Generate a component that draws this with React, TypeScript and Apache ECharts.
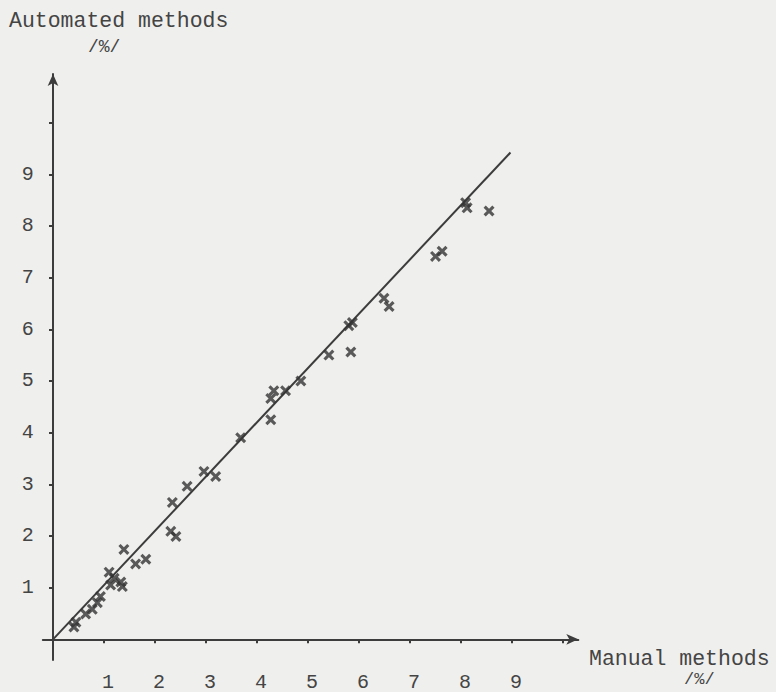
import React, { useEffect, useRef } from "react";
import * as echarts from "echarts";

const manualValues = [
  0.41, 0.45, 0.64, 0.77, 0.87, 0.93, 1.10, 1.13, 1.20, 1.33, 1.36, 1.39, 1.62, 1.82,
  2.31, 2.41, 2.34, 2.63, 2.96, 3.19, 3.68, 4.27, 4.27, 4.33, 4.56, 4.86, 5.41, 5.84,
  5.80, 5.87, 6.49, 6.59, 7.50, 7.63, 8.09, 8.12, 8.55,
];
const automatedValues = [
  0.24, 0.33, 0.49, 0.58, 0.71, 0.83, 1.30, 1.05, 1.18, 1.11, 1.02, 1.74, 1.46, 1.55,
  2.09, 1.99, 2.65, 2.96, 3.25, 3.15, 3.90, 4.25, 4.66, 4.81, 4.81, 5.00, 5.50, 5.56,
  6.07, 6.13, 6.60, 6.44, 7.41, 7.51, 8.45, 8.35, 8.29,
];
const regressionX = [0, 8.97];
const regressionY = [0, 9.42];
const tickValues = [1, 2, 3, 4, 5, 6, 7, 8, 9, 10];
const labelValues = [1, 2, 3, 4, 5, 6, 7, 8, 9];
const yAxisTitle = ["Automated methods", "/%/"];
const xAxisTitle = ["Manual methods", "/%/"];

const FONT = "'Liberation Mono', 'DejaVu Sans Mono', monospace";
const INK = "#3c3c3c";
const TEXT = "#444";
const CROSS =
  "path://M0,2 L2,0 L5,3 L8,0 L10,2 L7,5 L10,8 L8,10 L5,7 L2,10 L0,8 L3,5 Z";

export default function App() {
  const ref = useRef<HTMLDivElement>(null);
  useEffect(() => {
    if (!ref.current) return;
    const chart = echarts.init(ref.current, null, { renderer: "svg" });
    const points = manualValues.map((x, i) => [x, automatedValues[i]]);
    const line = regressionX.map((x, i) => [x, regressionY[i]]);
    const axisCommon = {
      type: "value" as const,
      axisLine: {
        show: true,
        onZero: true,
        symbol: ["none", "arrow"],
        symbolSize: [8, 12],
        lineStyle: { color: INK, width: 2 },
      },
      axisTick: {
        show: true,
        customValues: tickValues,
        length: 4,
        lineStyle: { color: INK, width: 2 },
      },
      splitLine: { show: false },
    };
    chart.setOption({
      animation: false,
      backgroundColor: "#efefed",
      grid: { left: 42.8, right: 197.7, top: 74, bottom: 14.7 },
      xAxis: {
        ...axisCommon,
        min: -0.2,
        max: 10.3,
        axisLabel: {
          customValues: labelValues,
          margin: 12,
          padding: [0, 0, 0, 8],
          color: TEXT,
          fontFamily: FONT,
          fontSize: 20,
        },
      },
      yAxis: {
        ...axisCommon,
        min: -0.4,
        max: 10.94,
        axisLabel: {
          customValues: labelValues,
          margin: 9,
          color: TEXT,
          fontFamily: FONT,
          fontSize: 20,
        },
      },
      series: [
        {
          type: "line",
          data: line,
          symbol: "none",
          lineStyle: { color: INK, width: 2 },
          z: 2,
        },
        {
          type: "scatter",
          data: points,
          symbol: CROSS,
          symbolSize: 11,
          itemStyle: { color: "#333" },
          z: 3,
        },
      ],
      graphic: [
        {
          type: "text",
          left: 9,
          top: 10,
          style: { text: yAxisTitle[0], font: `21.5px ${FONT}`, fill: TEXT },
        },
        {
          type: "text",
          left: 88,
          top: 38,
          style: { text: yAxisTitle[1], font: `18px ${FONT}`, fill: TEXT },
        },
        {
          type: "text",
          left: 589,
          top: 648,
          style: { text: xAxisTitle[0], font: `21.5px ${FONT}`, fill: TEXT },
        },
        {
          type: "text",
          left: 684,
          top: 671,
          style: { text: xAxisTitle[1], font: `17px ${FONT}`, fill: TEXT },
        },
      ],
    });
    return () => chart.dispose();
  }, []);
  return (
    <div
      ref={ref}
      style={{ position: "fixed", left: 0, top: 0, width: 776, height: 692 }}
    />
  );
}
